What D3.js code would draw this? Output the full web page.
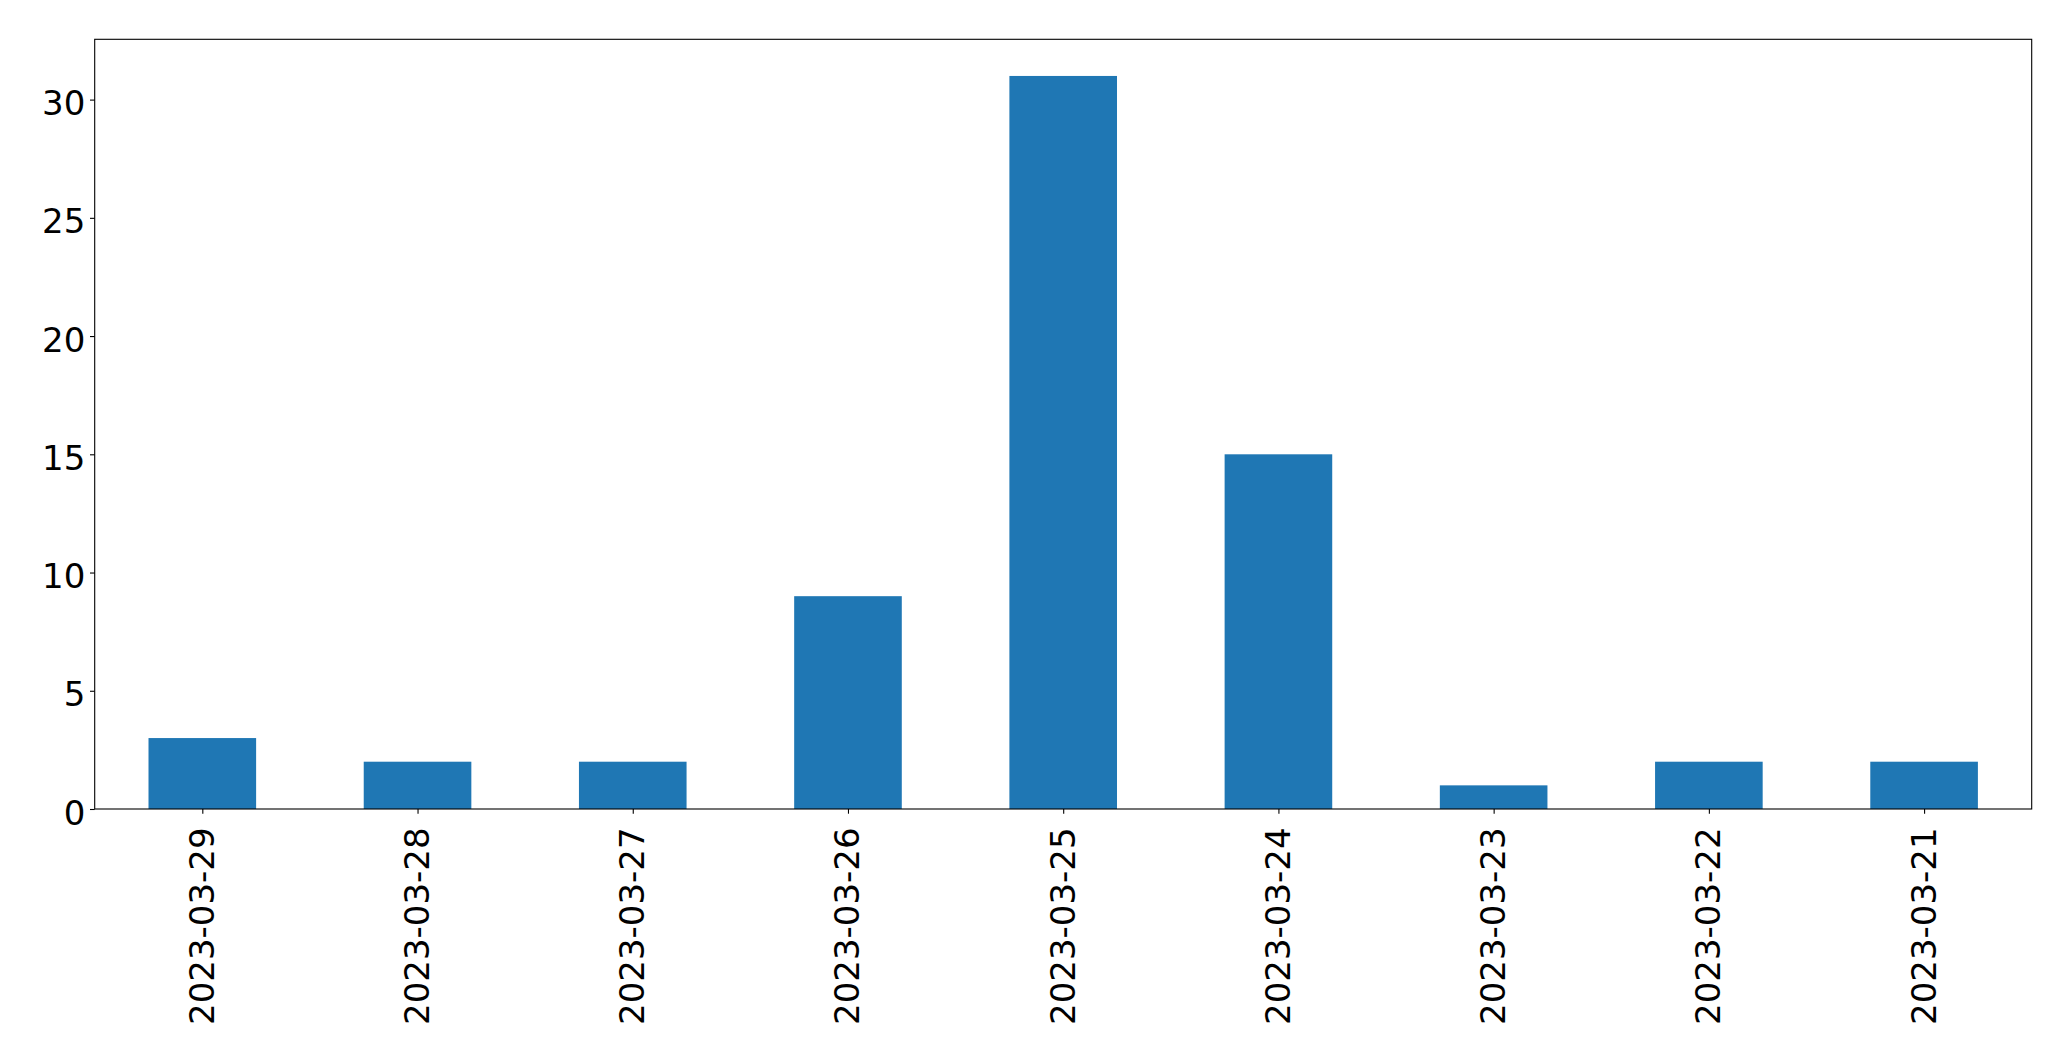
<!DOCTYPE html>
<html>
<head>
<meta charset="utf-8">
<script src="https://cdn.jsdelivr.net/npm/d3@7"></script>
<style>
html,body{margin:0;padding:0;background:#fff;}
svg{display:block;}
text{font-family:"DejaVu Sans",sans-serif;fill:#000;}
</style>
</head>
<body>
<svg id="chart" width="2071" height="1061"></svg>
<script>
const categories = ["2023-03-29","2023-03-28","2023-03-27","2023-03-26","2023-03-25","2023-03-24","2023-03-23","2023-03-22","2023-03-21"];
const values = [3, 2, 2, 9, 31, 15, 1, 2, 2];
const yTicks = [0, 5, 10, 15, 20, 25, 30];

(function () {
const mLeft = 94.7, mRight = 2031.7, mTop = 39.3, mBottom = 809;
const fontSize = 34, tickLen = 4.7, pad = 4.7;
const svg = d3.select("#chart");

const x = d3.scaleLinear().domain([-0.5, categories.length - 0.5]).range([mLeft, mRight]);
const yMax = d3.max(values) * 1.05;
const y = d3.scaleLinear().domain([0, yMax]).range([mBottom, mTop]);

// bars
svg.append("g").selectAll("rect").data(values).join("rect")
  .attr("x", (d, i) => x(i - 0.25))
  .attr("width", (d, i) => x(i + 0.25) - x(i - 0.25))
  .attr("y", d => y(d))
  .attr("height", d => y(0) - y(d))
  .attr("fill", "#1f77b4");

// y axis
const yAxis = d3.axisLeft(y).tickValues(yTicks).tickSize(tickLen).tickPadding(pad).tickFormat(d3.format("d"));
const gy = svg.append("g").attr("transform", `translate(${mLeft},0)`).call(yAxis);
gy.select(".domain").remove();
gy.selectAll(".tick line").attr("stroke", "#000").attr("stroke-width", 1.1);
gy.selectAll(".tick text").attr("font-size", fontSize).attr("font-family", "DejaVu Sans")
  .attr("dy", null).attr("y", 15).attr("fill", "#000");

// x axis
const xAxis = d3.axisBottom(x).tickValues(d3.range(categories.length)).tickSize(tickLen)
  .tickFormat(i => categories[i]);
const gx = svg.append("g").attr("transform", `translate(0,${mBottom})`).call(xAxis);
gx.select(".domain").remove();
gx.selectAll(".tick line").attr("stroke", "#000").attr("stroke-width", 1.1);
gx.selectAll(".tick text").attr("font-size", fontSize).attr("font-family", "DejaVu Sans")
  .attr("fill", "#000")
  .attr("dy", null).attr("y", null)
  .attr("text-anchor", "end")
  .attr("transform", "translate(11," + (tickLen + pad + 9) + ") rotate(-90)");

// frame
svg.append("rect").attr("x", mLeft).attr("y", mTop)
  .attr("width", mRight - mLeft).attr("height", mBottom - mTop)
  .attr("fill", "none").attr("stroke", "#000").attr("stroke-width", 1.1);
})();
</script>
</body>
</html>
